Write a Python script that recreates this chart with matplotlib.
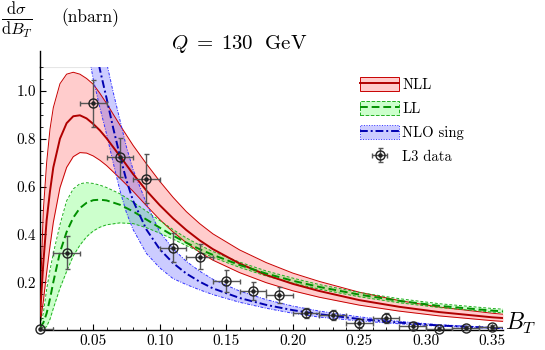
import matplotlib
matplotlib.use("Agg")
import matplotlib.pyplot as plt
from matplotlib.patches import Patch
from matplotlib.lines import Line2D
from matplotlib.ticker import MultipleLocator, FormatStrFormatter

plt.rcParams['font.family'] = 'serif'
plt.rcParams['font.serif'] = ['cmr10']
plt.rcParams['mathtext.fontset'] = 'cm'
plt.rcParams['axes.formatter.use_mathtext'] = True

# ---------------- data ----------------
x_rg = [0.01, 0.0125, 0.015, 0.0175, 0.02, 0.025, 0.03, 0.035, 0.04, 0.045, 0.05, 0.055, 0.06,
        0.07, 0.08, 0.09, 0.10, 0.11, 0.12, 0.13, 0.14, 0.16, 0.18, 0.20, 0.22, 0.25, 0.28,
        0.31, 0.35, 0.358]
nll_up = [0.10, 0.50, 0.70, 0.84, 0.93, 1.03, 1.07, 1.078, 1.07, 1.052, 1.028, 0.99, 0.948,
          0.858, 0.772, 0.695, 0.622, 0.555, 0.495, 0.445, 0.402, 0.335, 0.282, 0.238, 0.203,
          0.158, 0.123, 0.096, 0.07, 0.066]
nll_mid = [0.06, 0.28, 0.46, 0.58, 0.68, 0.80, 0.865, 0.894, 0.898, 0.885, 0.862, 0.835, 0.802,
           0.728, 0.652, 0.583, 0.522, 0.467, 0.418, 0.375, 0.338, 0.278, 0.23, 0.193, 0.163,
           0.125, 0.097, 0.075, 0.053, 0.05]
nll_lo = [0.02, 0.12, 0.24, 0.35, 0.45, 0.595, 0.68, 0.725, 0.742, 0.74, 0.728, 0.71, 0.688,
          0.635, 0.58, 0.52, 0.462, 0.41, 0.365, 0.325, 0.292, 0.24, 0.198, 0.164, 0.137,
          0.104, 0.079, 0.059, 0.039, 0.036]
ll_up = [0.02, 0.07, 0.17, 0.25, 0.32, 0.44, 0.54, 0.59, 0.612, 0.616, 0.613, 0.606, 0.596,
         0.57, 0.535, 0.497, 0.458, 0.42, 0.385, 0.355, 0.328, 0.284, 0.247, 0.217, 0.19,
         0.157, 0.131, 0.11, 0.09, 0.087]
ll_mid = [0.01, 0.03, 0.07, 0.13, 0.20, 0.325, 0.41, 0.47, 0.51, 0.532, 0.543, 0.545, 0.542,
          0.524, 0.496, 0.462, 0.428, 0.395, 0.365, 0.338, 0.314, 0.272, 0.236, 0.206, 0.18,
          0.148, 0.122, 0.101, 0.081, 0.078]
ll_lo = [0.0, 0.005, 0.015, 0.045, 0.09, 0.175, 0.245, 0.31, 0.355, 0.39, 0.414, 0.43, 0.44,
         0.448, 0.445, 0.428, 0.405, 0.38, 0.353, 0.328, 0.304, 0.262, 0.226, 0.196, 0.171,
         0.139, 0.114, 0.094, 0.075, 0.072]

x_b = [0.048, 0.05, 0.055, 0.06, 0.065, 0.07, 0.075, 0.08, 0.09, 0.10, 0.11, 0.12, 0.13, 0.14,
       0.16, 0.18, 0.20, 0.22, 0.25, 0.28, 0.31, 0.35, 0.358]
nlo_up = [1.50, 1.42, 1.27, 1.12, 0.995, 0.88, 0.765, 0.67, 0.53, 0.41, 0.34, 0.287, 0.246,
          0.212, 0.163, 0.127, 0.10, 0.079, 0.055, 0.036, 0.022, 0.0105, 0.0087]
nlo_mid = [1.30, 1.23, 1.09, 0.97, 0.845, 0.73, 0.625, 0.54, 0.42, 0.338, 0.28, 0.236, 0.202,
           0.174, 0.134, 0.105, 0.083, 0.066, 0.046, 0.031, 0.019, 0.009, 0.0075]
nlo_lo = [1.11, 1.05, 0.93, 0.82, 0.70, 0.585, 0.49, 0.42, 0.32, 0.26, 0.215, 0.19, 0.168,
          0.148, 0.116, 0.091, 0.07, 0.054, 0.038, 0.026, 0.016, 0.0075, 0.006]

data_x = [0.01, 0.03, 0.05, 0.07, 0.09, 0.11, 0.13, 0.15, 0.17, 0.19, 0.21, 0.23, 0.25, 0.27,
          0.29, 0.31, 0.33, 0.35]
data_y = [0.005, 0.324, 0.949, 0.722, 0.633, 0.345, 0.306, 0.206, 0.164, 0.146, 0.072, 0.063,
          0.028, 0.051, 0.018, 0.004, 0.007, 0.011]
data_yerr = [0.006, 0.068, 0.098, 0.08, 0.102, 0.062, 0.052, 0.045, 0.038, 0.035, 0.021, 0.02,
             0.02, 0.02, 0.015, 0.01, 0.008, 0.008]
data_xerr = [0.01] * 18

x_ticks = [0.05, 0.10, 0.15, 0.20, 0.25, 0.30, 0.35]
y_ticks = [0.2, 0.4, 0.6, 0.8, 1.0]

# ---------------- figure ----------------
fig = plt.figure(figsize=(5.45, 3.5), dpi=100)
ax = fig.add_axes([40/545, 20/350, 463/545, 263/350])
X0, X1, Y1 = 0.01, 0.358, 1.1
ax.set_xlim(X0, X1)
ax.set_ylim(0, Y1)

red_f, red_l = (1, 0, 0, 0.2), '#c80000'
grn_f, grn_l = (0, 1, 0, 0.2), '#1fb01f'
blu_f, blu_l = (0, 0, 1, 0.2), '#1a1acc'

ax.fill_between(x_rg, nll_lo, nll_up, color=red_f, lw=0, zorder=1)
ax.plot(x_rg, nll_up, color=red_l, lw=0.7, zorder=2)
ax.plot(x_rg, nll_lo, color=red_l, lw=0.7, zorder=2)
ax.plot(x_rg, nll_mid, color='#b00000', lw=1.4, zorder=3)

ax.fill_between(x_rg, ll_lo, ll_up, color=grn_f, lw=0, zorder=1)
ax.plot(x_rg, ll_up, color=grn_l, lw=0.7, ls=(0, (3, 2)), zorder=2)
ax.plot(x_rg, ll_lo, color=grn_l, lw=0.7, ls=(0, (3, 2)), zorder=2)
ax.plot(x_rg, ll_mid, color='#009000', lw=1.4, ls=(0, (4, 2)), zorder=3)

ax.fill_between(x_b, nlo_lo, nlo_up, color=blu_f, lw=0, zorder=1)
ax.plot(x_b, nlo_up, color='#3333ff', lw=0.7, ls=(0, (3, 1.5, 1, 1.5)), zorder=2)
ax.plot(x_b, nlo_lo, color='#3333ff', lw=0.7, ls=(0, (3, 1.5, 1, 1.5)), zorder=2)
ax.plot(x_b, nlo_mid, color='#0000b0', lw=1.4, ls=(0, (4, 1.5, 1, 1.5)), zorder=3)

eb = ax.errorbar(data_x, data_y, yerr=data_yerr, xerr=data_xerr, fmt='o', ms=6.5,
                 mfc='none', mec='#222222', mew=1.0, ecolor='#555555', elinewidth=1.0,
                 capsize=1.8, capthick=1.0, zorder=5)
eb.lines[0].set_clip_on(False)
dots, = ax.plot(data_x, data_y, ls='none', marker='o', ms=2.2, color='#222222', zorder=6,
                clip_on=False)

# axes styling (Mathematica-like)
for s in ['top', 'right']:
    ax.spines[s].set_visible(False)
ax.spines['left'].set_linewidth(1.0)
ax.spines['bottom'].set_linewidth(1.0)
ax.plot([X0, X0], [Y1, 1.165], color='black', lw=1.0, clip_on=False, zorder=7)
ax.plot([X0, 0.048], [Y1, Y1], color='#e6e6e6', lw=0.8, zorder=0)

ax.set_xticks(x_ticks)
ax.set_yticks(y_ticks)
ax.xaxis.set_major_formatter(FormatStrFormatter('%.2f'))
ax.yaxis.set_major_formatter(FormatStrFormatter('%.1f'))
ax.xaxis.set_minor_locator(MultipleLocator(0.01))
ax.yaxis.set_minor_locator(MultipleLocator(0.05))
ax.tick_params(which='major', direction='in', length=4.5, width=0.8, labelsize=11, pad=3)
ax.tick_params(which='minor', direction='in', length=2.5, width=0.6)

ax.text(1.004, 0.025, r'$B_T$', transform=ax.transAxes, fontsize=17, ha='left', va='center')
fig.text(239/545, 1 - 44/350, r'$Q\;=\;130\ \ \mathrm{GeV}$', fontsize=15, ha='center',
         va='center')
fig.text(0.002, 1 - 20/350, r'$\frac{\mathrm{d}\sigma}{\mathrm{d}B_T}$', fontsize=17,
         ha='left', va='center')
fig.text(61/545, 1 - 18/350, '(nbarn)', fontsize=12.5, ha='left', va='center')

# legend
h_nll = (Patch(facecolor=red_f, edgecolor=red_l, lw=0.7),
         Line2D([], [], color='#b00000', lw=1.4))
h_ll = (Patch(facecolor=grn_f, edgecolor=grn_l, lw=0.7, ls='--'),
        Line2D([], [], color='#009000', lw=1.4, ls=(0, (4, 2))))
h_nlo = (Patch(facecolor=blu_f, edgecolor='#3333ff', lw=0.7, ls=':'),
         Line2D([], [], color='#0000b0', lw=1.4, ls=(0, (4, 1.5, 1, 1.5))))
h_dat = (eb, dots)
leg = ax.legend([h_nll, h_ll, h_nlo, h_dat], ['NLL', 'LL', 'NLO sing', 'L3 data'],
                loc='upper left', bbox_to_anchor=(0.691, 0.962), frameon=False,
                fontsize=10.5, handlelength=2.7, handleheight=1.1, labelspacing=0.62,
                handletextpad=0.2, borderpad=0, borderaxespad=0)

fig.savefig('out.png', dpi=100)
